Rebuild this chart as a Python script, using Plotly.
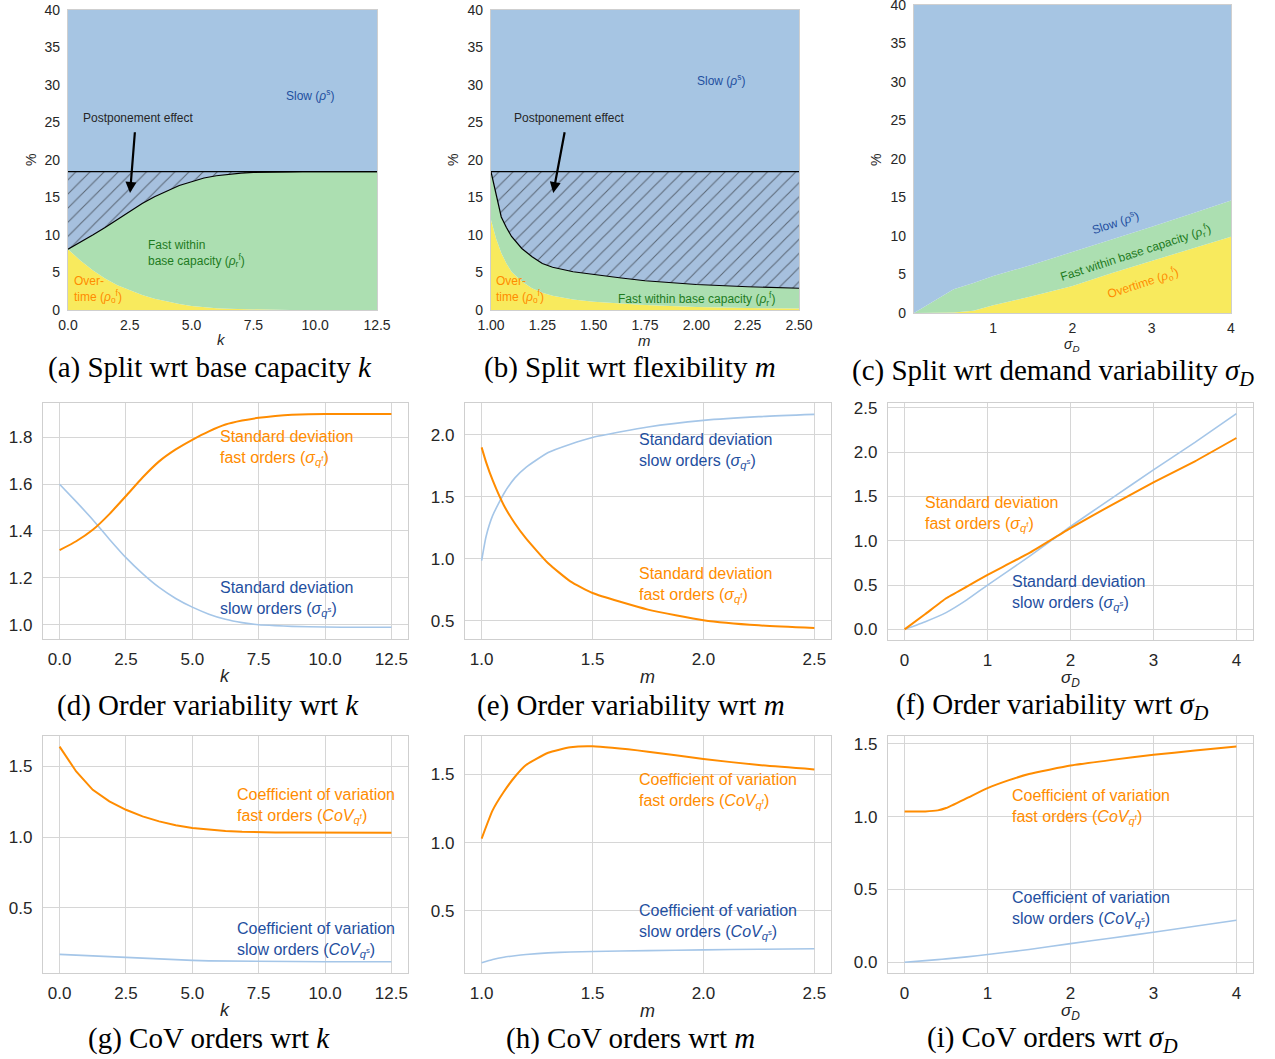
import plotly.graph_objects as go

W, H = 1275, 1059

# ---------------- data ----------------
# (a) split wrt base capacity k
K_A = [0.0, 0.5, 1.0, 1.5, 2.0, 2.5, 3.0, 3.5, 4.0, 4.5, 5.0, 5.5, 6.0, 6.5, 7.0, 7.5,
       8.0, 8.5, 9.0, 9.5, 10.0, 10.5, 11.0, 11.5, 12.0, 12.5]
A_OVERTIME = [8.1, 6.6, 5.3, 4.2, 3.3, 2.6, 2.0, 1.5, 1.1, 0.8, 0.55, 0.38, 0.25, 0.16, 0.1, 0.06,
              0.04, 0.02, 0.01, 0, 0, 0, 0, 0, 0, 0]
A_FAST_TOP = [8.1, 9.0, 10.0, 11.0, 12.1, 13.2, 14.2, 15.1, 15.9, 16.6, 17.1, 17.6, 17.9, 18.1, 18.25, 18.35,
              18.4, 18.42, 18.43, 18.44, 18.44, 18.44, 18.44, 18.44, 18.44, 18.44]
A_FAST_TOTAL = 18.44

# (b) split wrt flexibility m
M_B = [1.0, 1.025, 1.05, 1.075, 1.1, 1.15, 1.2, 1.25, 1.3, 1.4, 1.5, 1.625, 1.75, 1.875, 2.0, 2.25, 2.5]
B_OVERTIME = [12.0, 9.5, 7.6, 6.2, 5.1, 3.8, 2.9, 2.3, 1.9, 1.4, 1.1, 0.85, 0.67, 0.52, 0.4, 0.27, 0.2]
B_FAST_TOP = [18.44, 15.2, 12.4, 11.0, 9.8, 8.2, 7.1, 6.2, 5.7, 5.1, 4.7, 4.3, 3.9, 3.6, 3.4, 3.1, 2.9]
B_FAST_TOTAL = 18.44

# (c) split wrt demand variability sigma_D
S_C = [0.0, 0.25, 0.5, 0.75, 1.0, 1.5, 2.0, 2.5, 3.0, 3.5, 4.0]
C_OVERTIME = [0.0, 0.0, 0.05, 0.3, 1.0, 2.2, 3.5, 5.2, 6.8, 8.3, 9.9]
C_FAST_TOP = [0.0, 1.5, 3.1, 3.9, 4.8, 6.3, 7.9, 9.5, 11.2, 12.9, 14.6]

PCT_MAX = 40

# (d) order variability wrt k
K_D = [0.0, 0.625, 1.25, 1.875, 2.5, 3.125, 3.75, 4.375, 5.0, 5.625, 6.25, 6.875, 7.5, 8.125, 8.75, 10.0, 11.25, 12.5]
D_FAST = [1.318, 1.356, 1.405, 1.472, 1.549, 1.628, 1.697, 1.748, 1.789, 1.825, 1.854, 1.871, 1.883, 1.891, 1.896, 1.899, 1.899, 1.899]
D_SLOW = [1.599, 1.525, 1.448, 1.365, 1.286, 1.218, 1.159, 1.112, 1.075, 1.045, 1.023, 1.009, 1.000, 0.996, 0.993, 0.990, 0.989, 0.989]

# (e) order variability wrt m
M_E = [1.0, 1.02, 1.05, 1.1, 1.15, 1.2, 1.3, 1.4, 1.5, 1.75, 2.0, 2.25, 2.5]
E_SLOW = [0.986, 1.18, 1.35, 1.525, 1.653, 1.738, 1.858, 1.925, 1.979, 2.064, 2.117, 2.147, 2.165]
E_FAST = [1.899, 1.78, 1.632, 1.432, 1.285, 1.165, 0.964, 0.818, 0.724, 0.59, 0.505, 0.463, 0.441]

# (f) order variability wrt sigma_D
S_F = [0.0, 0.25, 0.5, 0.75, 1.0, 1.5, 2.0, 2.5, 3.0, 3.5, 4.0]
F_FAST = [0.0, 0.173, 0.351, 0.483, 0.615, 0.86, 1.143, 1.406, 1.659, 1.897, 2.16]
F_SLOW = [0.0, 0.087, 0.189, 0.332, 0.50, 0.82, 1.161, 1.482, 1.80, 2.11, 2.436]

# (g) CoV wrt k
G_FAST = [1.641, 1.465, 1.335, 1.253, 1.194, 1.147, 1.112, 1.085, 1.065, 1.053, 1.044, 1.038, 1.034, 1.033, 1.033, 1.032, 1.032, 1.032]
G_SLOW = [0.171, 0.165, 0.160, 0.154, 0.147, 0.141, 0.136, 0.132, 0.128, 0.125, 0.123, 0.122, 0.121, 0.120, 0.120, 0.119, 0.119, 0.119]

# (h) CoV wrt m
M_H = [1.0, 1.05, 1.1, 1.15, 1.2, 1.3, 1.4, 1.5, 1.75, 2.0, 2.25, 2.5]
H_FAST = [1.029, 1.238, 1.373, 1.483, 1.569, 1.659, 1.699, 1.706, 1.667, 1.613, 1.569, 1.537]
H_SLOW = [0.118, 0.142, 0.159, 0.170, 0.179, 0.191, 0.197, 0.201, 0.207, 0.213, 0.217, 0.221]

# (i) CoV wrt sigma_D
S_I = [0.0, 0.25, 0.4, 0.5, 0.75, 1.0, 1.25, 1.5, 2.0, 2.5, 3.0, 3.5, 4.0]
I_FAST = [1.036, 1.036, 1.043, 1.059, 1.127, 1.196, 1.249, 1.293, 1.351, 1.39, 1.425, 1.454, 1.482]
I_SLOW = [0.0, 0.011, 0.018, 0.023, 0.037, 0.053, 0.070, 0.087, 0.128, 0.167, 0.206, 0.247, 0.288]

# ---------------- styles ----------------
SLOW_FILL = '#a6c5e3'
FAST_FILL = '#acdfb1'
OVER_FILL = '#f8ea5d'
HATCH_BG = '#a6c0de'
ORANGE = '#ff8c00'
LIGHTBLUE = '#a5c6e8'
TXT_BLUE = '#1f4fa0'
TXT_GREEN = '#1e7b1e'
SANS = 'Liberation Sans, Arial, sans-serif'
SERIF = 'Liberation Serif, DejaVu Serif, serif'
FRAME = '#cfcfcf'
GRID = '#d6d6d6'

fig = go.Figure()


def xd(p0, p1):
    return [p0 / W, p1 / W]


def yd(p0, p1):
    return [1 - p1 / H, 1 - p0 / H]


def aid(i):
    return '' if i == 1 else str(i)


# panel geometry (pixel boxes)
BOX = {
    1: (68, 377, 10, 310), 2: (491, 799, 10, 310), 3: (914, 1231, 5, 313),
    4: (43, 408, 403, 639), 5: (465, 831, 403, 639), 6: (888, 1253, 403, 640),
    7: (43, 408, 736, 973), 8: (465, 831, 736, 973), 9: (888, 1253, 736, 973),
}


def stacked(i, xs, over, fast_top, total, hatch):
    xa, ya = 'x' + aid(i), 'y' + aid(i)
    fig.add_trace(go.Scatter(x=xs, y=over, mode='lines', line=dict(width=0, color=OVER_FILL),
                             fill='tozeroy', fillcolor=OVER_FILL, xaxis=xa, yaxis=ya, showlegend=False,
                             hoverinfo='skip'))
    fig.add_trace(go.Scatter(x=xs, y=fast_top, mode='lines',
                             line=dict(width=1.2 if hatch else 0, color='black' if hatch else FAST_FILL),
                             fill='tonexty', fillcolor=FAST_FILL, xaxis=xa, yaxis=ya, showlegend=False,
                             hoverinfo='skip'))
    if hatch:
        fig.add_trace(go.Scatter(x=xs, y=[total] * len(xs), mode='lines', line=dict(width=1.2, color='black'),
                                 fill='tonexty', fillcolor=HATCH_BG,
                                 fillpattern=dict(shape='/', fgcolor='#111111', bgcolor=HATCH_BG, size=10,
                                                  solidity=0.11),
                                 xaxis=xa, yaxis=ya, showlegend=False, hoverinfo='skip'))
    fig.add_trace(go.Scatter(x=xs, y=[PCT_MAX] * len(xs), mode='lines', line=dict(width=0, color=SLOW_FILL),
                             fill='tonexty', fillcolor=SLOW_FILL, xaxis=xa, yaxis=ya, showlegend=False,
                             hoverinfo='skip'))


stacked(1, K_A, A_OVERTIME, A_FAST_TOP, A_FAST_TOTAL, True)
stacked(2, M_B, B_OVERTIME, B_FAST_TOP, B_FAST_TOTAL, True)
stacked(3, S_C, C_OVERTIME, C_FAST_TOP, None, False)


def lines(i, xs, fast, slow, smooth=0.5):
    xa, ya = 'x' + aid(i), 'y' + aid(i)
    sh = 'spline' if smooth else 'linear'
    fig.add_trace(go.Scatter(x=xs, y=slow, mode='lines',
                             line=dict(width=1.6, color=LIGHTBLUE, shape=sh, smoothing=smooth or 1),
                             xaxis=xa, yaxis=ya, showlegend=False))
    fig.add_trace(go.Scatter(x=xs, y=fast, mode='lines',
                             line=dict(width=2, color=ORANGE, shape=sh, smoothing=smooth or 1),
                             xaxis=xa, yaxis=ya, showlegend=False))


lines(4, K_D, D_FAST, D_SLOW, 0.4)
lines(5, M_E, E_FAST, E_SLOW, 0.5)
lines(6, S_F, F_FAST, F_SLOW, 0.3)
lines(7, K_D, G_FAST, G_SLOW, 0)
lines(8, M_H, H_FAST, H_SLOW, 0.5)
lines(9, S_I, I_FAST, I_SLOW, 0.4)

# ---------------- axes ----------------
AX = {
    1: dict(xr=[0, 12.5], xt=[0, 2.5, 5, 7.5, 10, 12.5], xf='.1f', yr=[0, 40], yt=list(range(0, 41, 5)), yf='d'),
    2: dict(xr=[1, 2.5], xt=[1, 1.25, 1.5, 1.75, 2, 2.25, 2.5], xf='.2f', yr=[0, 40], yt=list(range(0, 41, 5)), yf='d'),
    3: dict(xr=[0, 4], xt=[1, 2, 3, 4], xf='d', yr=[0, 40], yt=list(range(0, 41, 5)), yf='d'),
    4: dict(xr=[-0.625, 13.125], xt=[0, 2.5, 5, 7.5, 10, 12.5], xf='.1f', yr=[0.939, 1.946],
            yt=[1.0, 1.2, 1.4, 1.6, 1.8], yf='.1f'),
    5: dict(xr=[0.925, 2.575], xt=[1, 1.5, 2, 2.5], xf='.1f', yr=[0.353, 2.257], yt=[0.5, 1, 1.5, 2], yf='.1f'),
    6: dict(xr=[-0.2, 4.2], xt=[0, 1, 2, 3, 4], xf='d', yr=[-0.12, 2.555], yt=[0, 0.5, 1, 1.5, 2, 2.5], yf='.1f'),
    7: dict(xr=[-0.625, 13.125], xt=[0, 2.5, 5, 7.5, 10, 12.5], xf='.1f', yr=[0.039, 1.716],
            yt=[0.5, 1.0, 1.5], yf='.1f'),
    8: dict(xr=[0.925, 2.575], xt=[1, 1.5, 2, 2.5], xf='.1f', yr=[0.043, 1.782], yt=[0.5, 1, 1.5], yf='.1f'),
    9: dict(xr=[-0.2, 4.2], xt=[0, 1, 2, 3, 4], xf='d', yr=[-0.074, 1.554], yt=[0, 0.5, 1, 1.5], yf='.1f'),
}

layout_axes = {}
for i in range(1, 10):
    x0, x1, y0, y1 = BOX[i]
    a = AX[i]
    top = i <= 3
    fs = 14 if top else 17
    common = dict(showline=True, mirror=True, linecolor=FRAME, linewidth=1.2, zeroline=False,
                  showgrid=not top, gridcolor=GRID, gridwidth=1.3, ticks='', automargin=False,
                  ticklabeloverflow='allow',
                  tickfont=dict(family=SANS, size=fs, color='#262626'), layer='above traces' if top else 'below traces')
    layout_axes['xaxis' + aid(i)] = dict(common, domain=xd(x0, x1), range=a['xr'], tickvals=a['xt'],
                                          tickformat=a['xf'], anchor='y' + aid(i), ticklabelstandoff=2 if top else 4)
    layout_axes['yaxis' + aid(i)] = dict(common, domain=yd(y0, y1), range=a['yr'], tickvals=a['yt'],
                                          tickformat=a['yf'], anchor='x' + aid(i), ticklabelstandoff=4 if top else 6)

fig.update_layout(**layout_axes)

# ---------------- annotations ----------------
ann = []


def data_text(i, x, y, text, color, size, xanchor='left', angle=0):
    ann.append(dict(xref='x' + aid(i), yref='y' + aid(i), x=x, y=y, text=text, showarrow=False,
                    font=dict(family=SANS, size=size, color=color), xanchor=xanchor, yanchor='middle',
                    align='left', textangle=angle))


def paper_text(px, py, text, size, family=SANS, color='black', angle=0):
    ann.append(dict(xref='paper', yref='paper', x=px / W, y=1 - py / H, text=text, showarrow=False,
                    font=dict(family=family, size=size, color=color), xanchor='center', yanchor='middle',
                    textangle=angle))


RHO_S = '(<i>ρ</i><sup>s</sup>)'
RHO_R = '(<i>ρ</i><sub>r</sub><sup>f</sup>)'
RHO_O = '(<i>ρ</i><sub>o</sub><sup>f</sup>)'

# (a)
data_text(1, 9.79, 28.7, 'Slow ' + RHO_S, TXT_BLUE, 12, 'center')
data_text(1, 0.53, 25.6, 'Postponement effect', '#262626', 12)
data_text(1, 3.16, 7.6, 'Fast within<br>base capacity ' + RHO_R, TXT_GREEN, 12)
data_text(1, 0.16, 2.8, 'Over-<br>time ' + RHO_O, ORANGE, 12)
ann.append(dict(xref='x', yref='y', axref='x', ayref='y', x=2.51, y=15.6, ax=2.71, ay=23.9, text='',
                showarrow=True, arrowhead=2, arrowsize=1, arrowwidth=2.2, arrowcolor='black'))
# (b)
data_text(2, 2.12, 30.7, 'Slow ' + RHO_S, TXT_BLUE, 12, 'center')
data_text(2, 1.102, 25.6, 'Postponement effect', '#262626', 12)
data_text(2, 1.015, 2.8, 'Over-<br>time ' + RHO_O, ORANGE, 12)
data_text(2, 2.003, 1.5, 'Fast within base capacity ' + RHO_R, TXT_GREEN, 12, 'center')
ann.append(dict(xref='x2', yref='y2', axref='x2', ayref='y2', x=1.303, y=15.6, ax=1.36, ay=23.9, text='',
                showarrow=True, arrowhead=2, arrowsize=1, arrowwidth=2.2, arrowcolor='black'))
# (c)
data_text(3, 2.54, 11.8, 'Slow ' + RHO_S, TXT_BLUE, 12, 'center', -18)
data_text(3, 2.79, 7.8, 'Fast within base capacity ' + RHO_R, TXT_GREEN, 12, 'center', -18)
data_text(3, 2.89, 3.9, 'Overtime ' + RHO_O, ORANGE, 12, 'center', -18)

SIG_F = '(<i>σ</i><sub><i>q</i><sup>f</sup></sub>)'
SIG_S = '(<i>σ</i><sub><i>q</i><sup>s</sup></sub>)'
COV_F = '(<i>CoV</i><sub><i>q</i><sup>f</sup></sub>)'
COV_S = '(<i>CoV</i><sub><i>q</i><sup>s</sup></sub>)'

data_text(4, 5.95, 1.752, 'Standard deviation<br>fast orders ' + SIG_F, ORANGE, 16)
data_text(4, 5.95, 1.11, 'Standard deviation<br>slow orders ' + SIG_S, TXT_BLUE, 16)
data_text(5, 1.70, 1.872, 'Standard deviation<br>slow orders ' + SIG_S, TXT_BLUE, 16)
data_text(5, 1.70, 0.79, 'Standard deviation<br>fast orders ' + SIG_F, ORANGE, 16)
data_text(6, 0.228, 1.304, 'Standard deviation<br>fast orders ' + SIG_F, ORANGE, 16)
data_text(6, 1.274, 0.41, 'Standard deviation<br>slow orders ' + SIG_S, TXT_BLUE, 16)
data_text(7, 6.59, 1.223, 'Coefficient of variation<br>fast orders ' + COV_F, ORANGE, 16)
data_text(7, 6.59, 0.276, 'Coefficient of variation<br>slow orders ' + COV_S, TXT_BLUE, 16)
data_text(8, 1.70, 1.377, 'Coefficient of variation<br>fast orders ' + COV_F, ORANGE, 16)
data_text(8, 1.70, 0.417, 'Coefficient of variation<br>slow orders ' + COV_S, TXT_BLUE, 16)
data_text(9, 1.274, 1.068, 'Coefficient of variation<br>fast orders ' + COV_F, ORANGE, 16)
data_text(9, 1.274, 0.368, 'Coefficient of variation<br>slow orders ' + COV_S, TXT_BLUE, 16)

# axis titles
K = '<i>k</i>'
M = '<i>m</i>'
SD = '<i>σ</i><sub><i>D</i></sub>'
paper_text(222, 340, K, 15, color='#262626')
paper_text(644, 341, M, 15, color='#262626')
paper_text(1072, 345, SD, 14, color='#262626')
paper_text(31, 160, '%', 14, color='#262626', angle=-90)
paper_text(453, 160, '%', 14, color='#262626', angle=-90)
paper_text(876, 160, '%', 14, color='#262626', angle=-90)
paper_text(225, 676, K, 18, color='#262626')
paper_text(648, 677, M, 18, color='#262626')
paper_text(1070, 679, SD, 17, color='#262626')
paper_text(225, 1010, K, 18, color='#262626')
paper_text(648, 1011, M, 18, color='#262626')
paper_text(1070, 1012, SD, 17, color='#262626')

# captions
CAP = 29
paper_text(210, 367, '(a) Split wrt base capacity ' + K, CAP, SERIF)
paper_text(630, 367, '(b) Split wrt flexibility ' + M, CAP, SERIF)
paper_text(1053, 372, '(c) Split wrt demand variability ' + SD, CAP, SERIF)
paper_text(208, 705, '(d) Order variability wrt ' + K, CAP, SERIF)
paper_text(631, 705, '(e) Order variability wrt ' + M, CAP, SERIF)
paper_text(1052, 706, '(f) Order variability wrt ' + SD, CAP, SERIF)
paper_text(209, 1038, '(g) CoV orders wrt ' + K, CAP, SERIF)
paper_text(630, 1038, '(h) CoV orders wrt ' + M, CAP, SERIF)
paper_text(1052, 1039, '(i) CoV orders wrt ' + SD, CAP, SERIF)

fig.update_layout(annotations=ann, width=W, height=H,
                  margin=dict(l=0, r=0, t=0, b=0, autoexpand=False),
                  paper_bgcolor='white', plot_bgcolor='white', showlegend=False)

fig.write_html('out.html', config={'displayModeBar': False},
               post_script="document.body.style.margin='0px';document.body.style.overflow='hidden';")
